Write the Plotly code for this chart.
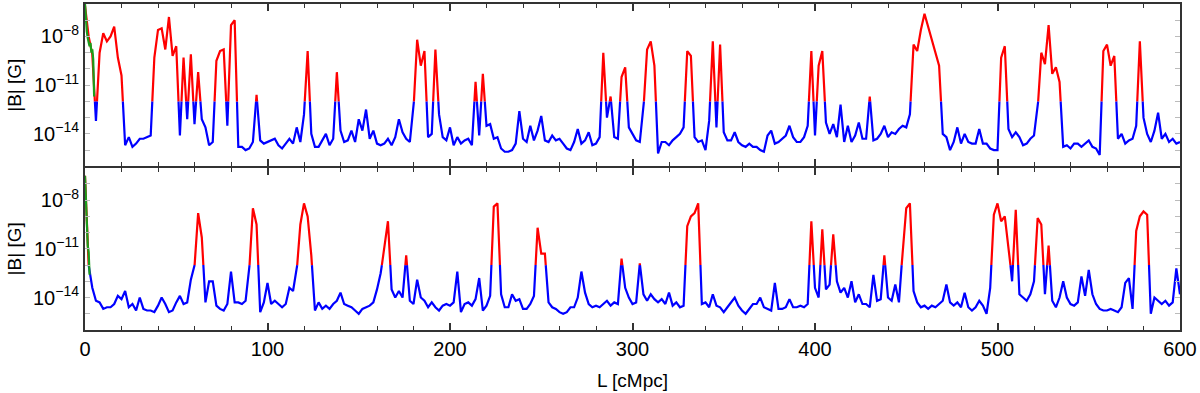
import numpy as np
import plotly.graph_objects as go
from plotly.subplots import make_subplots

# L grid [cMpc], step 2
L = np.arange(0, 601, 2)

# log10 |B| [G]
logB_top = [
    -6.1, -8.0, -9.1, -13.2, -9.0, -7.8, -8.3, -8.0, -7.4, -9.3,
    -10.4, -14.7, -14.2, -14.8, -14.6, -14.3, -14.3, -14.2, -14.1, -9.3,
    -7.6, -7.5, -8.8, -6.8, -9.2, -8.6, -14.1, -9.3, -13.1, -9.1,
    -13.4, -10.2, -13.1, -13.6, -14.7, -14.5, -9.5, -8.9, -8.8, -13.5,
    -7.3, -7.0, -14.8, -14.8, -15.0, -14.9, -14.5, -11.6, -14.4, -14.6,
    -14.5, -14.4, -14.3, -14.7, -14.9, -14.6, -14.3, -14.6, -13.6, -14.5,
    -12.8, -8.9, -14.0, -14.8, -14.8, -14.4, -14.0, -14.7, -14.3, -10.2,
    -13.8, -14.5, -14.4, -13.8, -14.5, -13.1, -13.8, -12.5, -14.3, -13.8,
    -14.6, -14.7, -14.6, -14.3, -14.7, -14.2, -13.1, -13.9, -14.3, -14.5,
    -12.5, -8.2, -9.8, -8.9, -14.2, -14.0, -8.8, -12.8, -14.2, -14.4,
    -13.6, -14.7, -14.2, -14.6, -14.4, -14.3, -14.7, -10.8, -14.1, -10.3,
    -13.5, -13.4, -14.3, -14.2, -14.9, -15.1, -15.1, -15.0, -14.6, -12.6,
    -14.3, -14.5, -13.5, -14.4, -13.8, -12.9, -14.4, -14.5, -14.1, -14.4,
    -14.3, -14.6, -14.9, -15.0, -14.5, -13.7, -14.6, -14.4, -13.9, -14.7,
    -14.6, -14.2, -9.0, -13.0, -11.7, -14.2, -14.3, -10.5, -9.9, -13.6,
    -14.0, -14.4, -14.5, -12.5, -8.8, -8.3, -9.8, -15.2, -14.5, -14.5,
    -14.7, -14.4, -14.2, -14.0, -13.6, -8.9, -9.2, -14.2, -14.5, -14.4,
    -15.0, -13.2, -8.3, -13.6, -8.5, -13.9, -14.4, -14.4, -13.9, -14.5,
    -14.7, -14.8, -14.6, -14.8, -14.8, -15.0, -15.1, -14.1, -13.8, -14.6,
    -14.5, -14.3, -14.1, -13.5, -14.2, -14.5, -14.5, -14.2, -13.5, -8.9,
    -14.1, -9.8, -8.9, -13.3, -14.0, -13.4, -14.2, -12.2, -14.5, -13.5,
    -14.5, -14.1, -13.3, -14.3, -14.3, -11.7, -14.4, -14.3, -14.0, -13.5,
    -14.2, -13.9, -14.0, -13.7, -13.5, -13.6, -12.8, -8.5, -8.9, -7.6,
    -6.6, -7.4, -8.3, -9.1, -9.8, -14.0, -14.2, -15.0, -14.5, -13.6,
    -14.6, -14.0, -14.5, -14.6, -14.6, -13.7, -14.6, -14.6, -14.9, -15.0,
    -15.0, -9.3, -8.6, -13.7, -14.2, -13.9, -14.2, -14.7, -14.6, -14.3,
    -14.1, -12.5, -9.0, -9.7, -7.3, -10.3, -9.9, -10.8, -14.8, -14.7,
    -14.9, -14.6, -14.6, -14.8, -14.6, -14.4, -14.8, -14.9, -15.3, -8.9,
    -8.5, -9.8, -9.2, -14.3, -14.0, -14.6, -14.4, -14.3, -13.5, -8.3,
    -13.0, -14.0, -14.5, -13.8, -12.7, -14.3, -14.0, -14.5, -14.3, -14.6,
    -14.5,
]

logB_bottom = [
    -6.5, -12.0, -13.4, -14.2, -14.3, -14.7, -14.6, -14.6, -14.4, -13.9,
    -14.1, -13.6, -14.6, -14.4, -14.8, -14.0, -14.7, -14.8, -14.8, -14.9,
    -14.5, -14.0, -14.4, -14.9, -14.8, -14.3, -13.9, -14.4, -14.3, -12.9,
    -12.1, -8.8, -10.3, -14.3, -13.0, -13.0, -14.5, -14.7, -14.8, -14.4,
    -12.4, -14.3, -14.3, -14.4, -14.2, -12.3, -8.5, -9.5, -14.9, -14.3,
    -13.1, -14.4, -14.2, -14.4, -14.6, -14.4, -13.4, -13.6, -12.4, -9.5,
    -8.2, -9.0, -11.4, -14.8, -14.3, -14.7, -14.5, -14.7, -14.4, -14.2,
    -13.7, -14.4, -14.5, -14.6, -14.8, -15.0, -14.7, -14.6, -14.5, -14.3,
    -13.5, -12.5, -11.0, -9.3, -13.5, -14.0, -13.6, -14.0, -11.4, -14.2,
    -14.4, -12.9, -14.0, -14.2, -14.6, -14.3, -14.6, -14.8, -14.5, -14.4,
    -14.5, -14.3, -12.4, -14.9, -14.4, -14.3, -14.5, -14.1, -12.8, -14.8,
    -14.5, -13.9, -8.4, -8.2, -13.8, -14.6, -14.6, -13.8, -14.2, -14.1,
    -14.7, -14.7, -14.4, -13.9, -9.7, -11.3, -11.3, -14.3, -14.6, -14.7,
    -14.9, -15.0, -14.9, -14.6, -14.6, -14.0, -12.4, -13.7, -14.4, -14.6,
    -14.5, -14.6, -14.4, -14.2, -14.5, -14.3, -14.4, -11.6, -13.4, -14.0,
    -14.4, -14.3, -11.9, -13.8, -14.2, -13.8, -14.1, -14.3, -14.1, -14.4,
    -13.7, -14.5, -14.3, -14.6, -14.5, -9.6, -9.0, -8.8, -8.2, -14.4,
    -14.3, -14.6, -13.8, -14.5, -14.6, -14.9, -14.6, -14.3, -14.0, -14.5,
    -14.8, -15.0, -14.7, -14.4, -14.4, -14.0, -14.6, -14.7, -14.8, -13.1,
    -14.7, -14.7, -14.6, -14.1, -14.6, -14.6, -14.5, -14.6, -14.4, -9.3,
    -13.4, -14.0, -9.8, -13.5, -13.2, -10.1, -13.0, -13.7, -13.4, -14.0,
    -13.0, -14.3, -13.8, -14.4, -14.4, -14.6, -12.6, -14.2, -14.1, -11.4,
    -14.0, -14.2, -13.2, -14.3, -11.2, -8.5, -8.2, -13.6, -14.3, -14.6,
    -14.5, -14.7, -14.5, -14.6, -14.4, -14.2, -13.2, -14.3, -14.5, -14.3,
    -14.6, -13.7, -14.6, -14.8, -14.6, -14.2, -14.5, -15.0, -13.4, -8.9,
    -8.2, -9.3, -9.0, -10.8, -13.0, -8.6, -13.8, -14.0, -14.2, -13.8,
    -13.0, -9.1, -9.5, -13.8, -10.8, -14.2, -14.6, -14.0, -13.0, -14.0,
    -14.4, -14.5, -14.3, -12.7, -13.9, -12.3, -13.8, -14.4, -14.7, -14.8,
    -14.8, -14.7, -14.8, -14.9, -14.6, -13.1, -12.8, -14.7, -9.9, -9.0,
    -8.7, -8.9, -15.0, -14.0, -14.2, -14.4, -14.2, -14.5, -14.3, -12.2,
    -13.8,
]

# green start segments (finer sampling near L=0)
green_top_L = [0, 0.5, 1, 1.5, 2, 2.5, 3, 3.5, 4, 4.5, 5]
green_top_logB = [-6.0, -7.0, -7.7, -8.1, -8.3, -8.6, -8.4, -9.0, -8.8, -9.4, -11.7]
green_bot_L = [0, 0.5, 1, 1.5, 2, 2.5]
green_bot_logB = [-6.5, -8.0, -9.5, -10.8, -11.2, -12.6]

thr = -12.0  # red above 1e-12 G

label_exps = [-8, -11, -14]
decades = list(range(-16, -5))


def split_at(x, y, t):
    # add the crossing points so red/blue meet exactly at the threshold
    xs, ys = [x[0]], [y[0]]
    for i in range(1, len(x)):
        y0, y1 = y[i - 1], y[i]
        if (y0 - t) * (y1 - t) < 0:
            f = (t - y0) / (y1 - y0)
            xs.append(x[i - 1] + f * (x[i] - x[i - 1]))
            ys.append(t)
        xs.append(x[i])
        ys.append(y[i])
    return np.array(xs), np.array(ys)


fig = make_subplots(rows=2, cols=1, shared_xaxes=True, vertical_spacing=0.004)

panels = [(logB_top, green_top_L, green_top_logB), (logB_bottom, green_bot_L, green_bot_logB)]
for row, (lb, gL, gB) in enumerate(panels, start=1):
    xs, ys = split_at(L, np.array(lb), thr)
    blue = [10.0 ** v if v <= thr else None for v in ys]
    red = [10.0 ** v if v >= thr else None for v in ys]
    fig.add_trace(go.Scatter(x=xs, y=blue, mode="lines", line=dict(color="#0000ff", width=2.2),
                             connectgaps=False, showlegend=False), row=row, col=1)
    fig.add_trace(go.Scatter(x=xs, y=red, mode="lines", line=dict(color="#ff0000", width=2.2),
                             connectgaps=False, showlegend=False), row=row, col=1)
    fig.add_trace(go.Scatter(x=gL, y=10.0 ** np.array(gB), mode="lines",
                             line=dict(color="#1a9e1a", width=2.2), showlegend=False), row=row, col=1)

    fig.update_yaxes(type="log", range=[-16, -6],
                     tickvals=[10.0 ** d for d in label_exps],
                     ticktext=["10<sup>−%d</sup>" % -d for d in label_exps],
                     ticks="inside", ticklen=5, tickcolor="#bbbbbb", tickwidth=1,
                     minor=dict(tickvals=[10.0 ** d for d in decades], ticks="inside",
                                ticklen=5, tickcolor="#bbbbbb", tickwidth=1, showgrid=False),
                     showgrid=False, zeroline=False,
                     showline=True, linewidth=2, linecolor="#333333", mirror="ticks",
                     tickfont=dict(size=20, color="black"),
                     title=dict(text="|B| [G]", font=dict(size=19, color="black"), standoff=6),
                     row=row, col=1)

fig.update_xaxes(range=[0, 600], dtick=100, tick0=0,
                 ticks="inside", ticklen=7, tickwidth=2, tickcolor="#333333",
                 minor=dict(dtick=20, ticks="inside", ticklen=4, tickwidth=1, tickcolor="#333333"),
                 showgrid=False, zeroline=False,
                 showline=True, linewidth=2, linecolor="#333333", mirror="ticks",
                 ticklabeloverflow="allow",
                 tickfont=dict(size=20, color="black"))
fig.update_xaxes(title=dict(text="L [cMpc]", font=dict(size=19, color="black"), standoff=15),
                 row=2, col=1)

fig.update_layout(width=1200, height=393,
                  margin=dict(l=85, r=20, t=2, b=63),
                  plot_bgcolor="white", paper_bgcolor="white",
                  font=dict(family="Liberation Sans, Arial, sans-serif", color="black"))

# page body has a default 8px margin; drop it so the figure sits at the window corner
fig.write_html("out.html", config={"displayModeBar": False},
               post_script="document.body.style.margin='0';")
